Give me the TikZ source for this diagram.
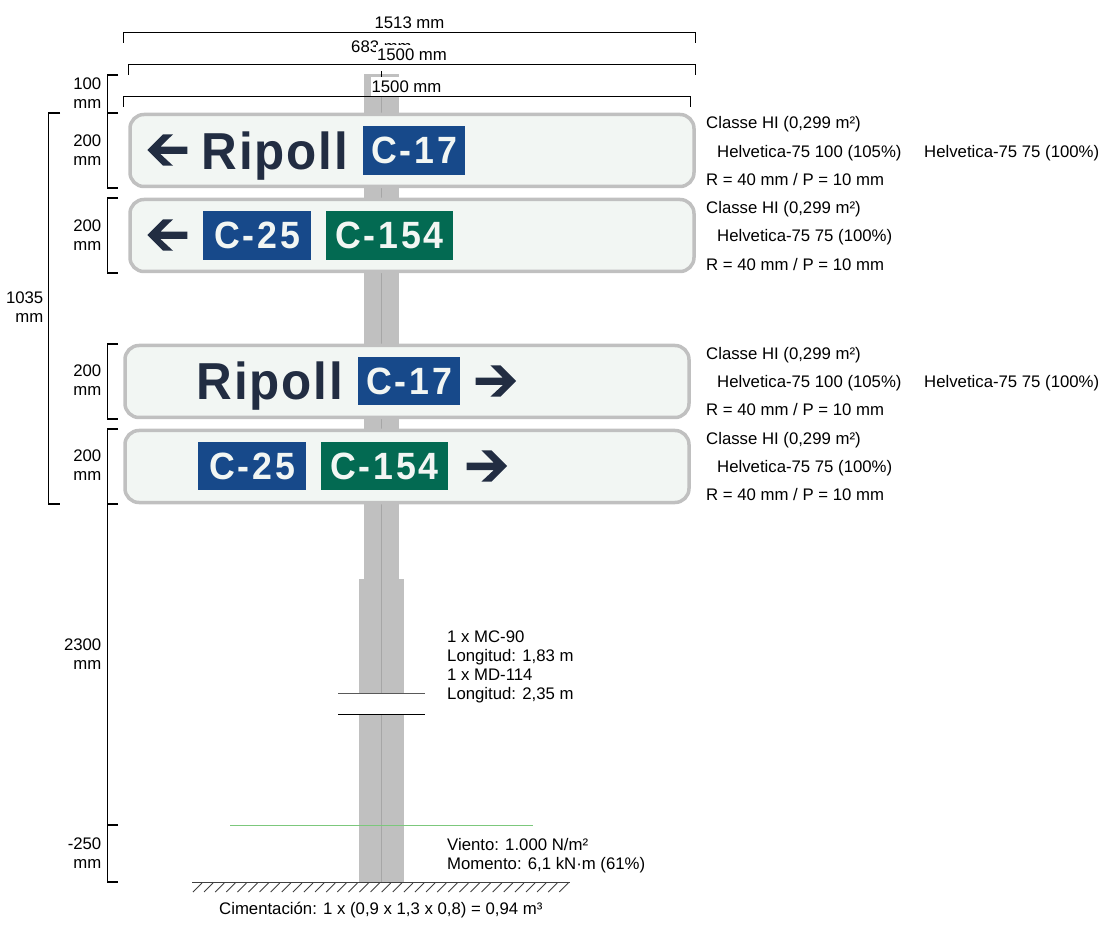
\documentclass[tikz,border=0pt]{standalone}
\usepackage{fontspec}
\setmainfont{Liberation Sans}
\newfontfamily\signfont[FakeStretch=0.95,LetterSpace=3.5]{Liberation Sans Bold}
\newfontfamily\codefont[FakeStretch=0.94,LetterSpace=7.5]{Liberation Sans Bold}
\definecolor{postgray}{HTML}{C0C0C0}
\definecolor{postline}{HTML}{A6A6A6}
\definecolor{signface}{HTML}{F2F6F3}
\definecolor{roadblue}{HTML}{17498A}
\definecolor{roadgreen}{HTML}{036A52}
\definecolor{signink}{HTML}{222D42}
\definecolor{windline}{HTML}{7CC87C}
\tikzset{
  x=1pt,y=-1pt,
  lbl/.style={font=\fontsize{16.75}{18}\selectfont,inner sep=0pt,anchor=base west},
  dimlbl/.style={font=\fontsize{16.75}{18}\selectfont,inner sep=0pt,anchor=base,fill=white,text height=15.5pt,text depth=3.5pt,inner xsep=1pt},
  sidelbl/.style={font=\fontsize{16.75}{19}\selectfont,inner sep=0pt,anchor=north east,align=right},
  bracket/.style={draw=black,line width=1.1pt},
  signplate/.style={draw=postgray,fill=signface,line width=3.5pt,rounded corners=14pt,minimum width=564pt,minimum height=72pt,inner sep=0pt},
  roadbox/.style={text=signface,inner sep=0pt,minimum height=48.5pt,font=\codefont\fontsize{38}{38}\selectfont},
  placename/.style={text=signink,inner sep=0pt,anchor=base west,font=\signfont\fontsize{52}{52}\selectfont},
  signarrow/.style={fill=signink,draw=none},
  post/.style={fill=postgray,draw=none},
}
\newcommand{\leftarr}[2]{\fill[signarrow] (#1,#2) -- (#1+15.7,#2-15.7) -- (#1+25.7,#2-15.7) -- (#1+13.1,#2-3.3) -- (#1+40,#2-3.3) -- (#1+40,#2+4) -- (#1+13.1,#2+4) -- (#1+25.7,#2+15.7) -- (#1+15.7,#2+15.7) -- cycle;}
\newcommand{\rightarr}[2]{\fill[signarrow] (#1,#2) -- (#1-15.7,#2-15.7) -- (#1-25.7,#2-15.7) -- (#1-13.1,#2-3.3) -- (#1-40.5,#2-3.3) -- (#1-40.5,#2+4) -- (#1-13.1,#2+4) -- (#1-25.7,#2+15.7) -- (#1-15.7,#2+15.7) -- cycle;}
\begin{document}
\begin{tikzpicture}
\useasboundingbox (0,0) rectangle (1112,933);
% post
\fill[post] (364,74) rectangle (399,579);
\fill[post] (359,579) rectangle (404,882);
\draw[postline,line width=0.8pt] (381.5,74) -- (381.5,882);
\draw[line width=0.7pt] (381.5,71) -- (381.5,77);
% break
\fill[white] (340,693) rectangle (425,714);
\draw[black!65,line width=1pt] (338,693) -- (425,693);
\draw[black,line width=1pt] (338,714.5) -- (425,714.5);
% wind line
\draw[windline,line width=1.2pt] (230,825.5) -- (533,825.5);
% ground
\draw[black!75,line width=1pt] (192,882) -- (570,882);
\foreach \h in {0,...,33} {\draw[black!75,line width=0.9pt] (193+\h*11.1,892) -- (202+\h*11.1,883);}
% top dimensions
\draw[bracket] (123.5,43) -- (123.5,32.5) -- (695.5,32.5) -- (695.5,43);
\node[dimlbl] (w1) at (409.5,28.5) {1513 mm};
\node[lbl] (w4) at (351,52.5) {683 mm};
\draw[bracket] (128.5,75) -- (128.5,64.5) -- (695.5,64.5) -- (695.5,75);
\node[dimlbl] (w2) at (412,60.5) {1500 mm};
\draw[bracket] (123.5,107) -- (123.5,96.5) -- (690.5,96.5) -- (690.5,107);
\node[dimlbl] (w3) at (406.5,92.5) {1500 mm};
% left dimensions
\draw[bracket] (118,75) -- (107.5,75) -- (107.5,113) -- (118,113);
\draw[bracket] (118,113) -- (107.5,113) -- (107.5,188) -- (118,188);
\draw[bracket] (118,198) -- (107.5,198) -- (107.5,273) -- (118,273);
\draw[bracket] (118,344) -- (107.5,344) -- (107.5,419) -- (118,419);
\draw[bracket] (118,429) -- (107.5,429) -- (107.5,504) -- (118,504);
\draw[bracket] (118,504) -- (107.5,504) -- (107.5,825) -- (118,825);
\draw[bracket] (118,825) -- (107.5,825) -- (107.5,882) -- (118,882);
\draw[bracket] (60,113) -- (48.5,113) -- (48.5,504) -- (60,504);
\node[sidelbl] (h0) at (101.5,77.5) {100\\mm};
\node[sidelbl] (h1) at (101.5,134.5) {200\\mm};
\node[sidelbl] (h2) at (101.5,219.5) {200\\mm};
\node[sidelbl] (h3) at (101.5,365) {200\\mm};
\node[sidelbl] (h4) at (101.5,450) {200\\mm};
\node[sidelbl] (h5) at (101.5,639) {2300\\mm};
\node[sidelbl] (h6) at (101.5,838) {-250\\mm};
\node[sidelbl] (h7) at (43.5,292) {1035\\mm};
% signs
\node[signplate] (s1) at (412,150.5) {};
\node[signplate] (s2) at (412,235.5) {};
\node[signplate] (s3) at (407,381.5) {};
\node[signplate] (s4) at (407,466.5) {};
\leftarr{147.3}{150}
\leftarr{147.3}{235}
\rightarr{516}{381}
\rightarr{507}{466}
\node[placename] (p1) at (201.5,170) {Ripoll};
\node[placename] (p3) at (196.5,400) {Ripoll};
\node[roadbox,fill=roadblue,minimum width=102pt] (r1) at (414,150.7) {C-17};
\node[roadbox,fill=roadblue,minimum width=108pt] (r2) at (257,235.7) {C-25};
\node[roadbox,fill=roadgreen,minimum width=127pt] (r3) at (389.5,235.7) {C-154};
\node[roadbox,fill=roadblue,minimum width=102pt] (r4) at (409,381) {C-17};
\node[roadbox,fill=roadblue,minimum width=108pt] (r5) at (252,466) {C-25};
\node[roadbox,fill=roadgreen,minimum width=127pt] (r6) at (384.5,466) {C-154};
% sign annotations
\node[lbl] (a1) at (706,128.5) {Classe HI (0,299 m²)};
\node[lbl] (a2) at (717,157.5) {Helvetica-75 100 (105\%)};
\node[lbl] (a3) at (924,157.5) {Helvetica-75 75 (100\%)};
\node[lbl] (a4) at (706,185.5) {R = 40 mm / P = 10 mm};
\node[lbl] (b1) at (706,213.5) {Classe HI (0,299 m²)};
\node[lbl] (b2) at (717,241.5) {Helvetica-75 75 (100\%)};
\node[lbl] (b4) at (706,270.5) {R = 40 mm / P = 10 mm};
\node[lbl] (c1) at (706,359.5) {Classe HI (0,299 m²)};
\node[lbl] (c2) at (717,387.5) {Helvetica-75 100 (105\%)};
\node[lbl] (c3) at (924,387.5) {Helvetica-75 75 (100\%)};
\node[lbl] (c4) at (706,415.5) {R = 40 mm / P = 10 mm};
\node[lbl] (d1) at (706,444.5) {Classe HI (0,299 m²)};
\node[lbl] (d2) at (717,472.5) {Helvetica-75 75 (100\%)};
\node[lbl] (d4) at (706,500.5) {R = 40 mm / P = 10 mm};
% post annotations
\node[lbl] (m1) at (447,642) {1 x MC-90};
\node[lbl] (m2) at (447,661) {Longitud: 1,83 m};
\node[lbl] (m3) at (447,680) {1 x MD-114};
\node[lbl] (m4) at (447,699) {Longitud: 2,35 m};
\node[lbl] (v1) at (447,850) {Viento: 1.000 N/m²};
\node[lbl] (v2) at (447,869) {Momento: 6,1 kN·m (61\%)};
\node[lbl] (f1) at (219,914) {Cimentación: 1 x (0,9 x 1,3 x 0,8) = 0,94 m³};
\end{tikzpicture}
\end{document}
